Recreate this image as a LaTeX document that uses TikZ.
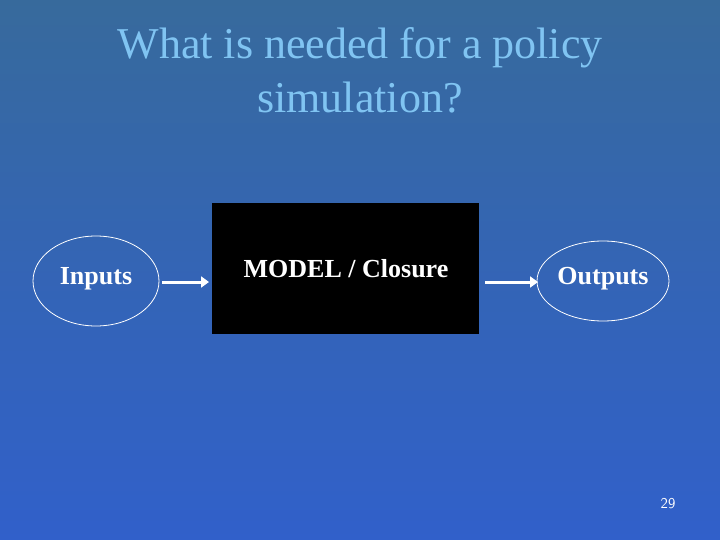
\documentclass[tikz,border=0pt]{standalone}
\usepackage{fontspec}
\setmainfont{Liberation Serif}
\usetikzlibrary{arrows.meta,shapes.geometric}
\definecolor{bgtop}{HTML}{376A9C}
\definecolor{bgbot}{HTML}{3160CA}
\definecolor{titlec}{HTML}{80C4F2}
\tikzset{oval/.style={draw=white,line width=0.8pt,ellipse,inner sep=0pt},
lab/.style={text=white,font=\bfseries\fontsize{26}{30}\selectfont},
arr/.style={draw=white,line width=3pt,-{Triangle[length=8pt,width=11pt]}}}
\begin{document}
\begin{tikzpicture}[x=1pt,y=-1pt]
\shade[top color=bgtop,bottom color=bgbot,middle color=bgbot!55!bgtop] (0,0) rectangle (720,540);
\useasboundingbox (0,0) rectangle (720,540);
\node[text=titlec,font=\fontsize{44}{54}\selectfont,align=center] (title) at (360,70) {What is needed for a policy\\simulation?};
\node[oval,minimum width=126pt,minimum height=90pt] (inov) at (96,281) {};
\node[lab] (in) at (96,279) {Inputs};
\node[oval,minimum width=132pt,minimum height=80pt] (outov) at (603,281) {};
\node[lab] (out) at (603,279) {Outputs};
\node[fill=black,minimum width=267pt,minimum height=131pt,inner sep=0pt] (box) at (345.5,268.5) {};
\node[lab] (model) at (346,269) {MODEL / Closure};
\coordinate (a1) at (162,282); \coordinate (a2) at (209,282);
\coordinate (b1) at (485,282); \coordinate (b2) at (538,282);
\draw[arr] (a1) -- (a2);
\draw[arr] (b1) -- (b2);
\node[text=white,font=\fontfamily{lmss}\selectfont\fontsize{15}{18}\selectfont] (num) at (668,504) {29};
\end{tikzpicture}
\end{document}
